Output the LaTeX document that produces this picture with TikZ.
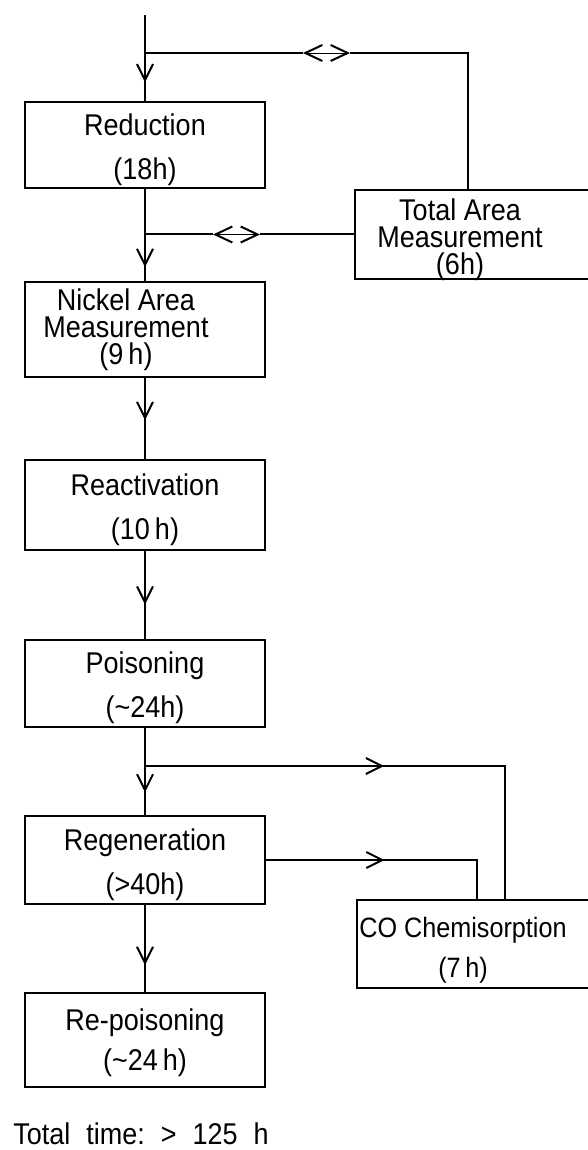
\documentclass[tikz,border=0pt]{standalone}
\usepackage{fontspec}
\setmainfont{Liberation Sans}[FakeStretch=0.9]
\usetikzlibrary{arrows.meta,decorations.markings,calc}

\tikzset{
  barb/.tip={Straight Barb[length=8pt,width=8pt,line width=1pt]},
  wide barb/.tip={Straight Barb[length=8.5pt,width=8pt,line width=1pt]},
  stage/.style={draw, line width=1pt, minimum width=120pt, inner sep=0pt,
    align=center, font=\fontsize{15}{22}\selectfont},
  tag/.style={align=center, inner sep=0pt, font=\fontsize{15}{13.5}\selectfont},
  flow/.style={line width=1pt},
  midarrow/.style={flow, postaction={decorate},
    decoration={markings, mark=at position #1 with {\arrow{barb}}}},
  both/.style={line width=0.4pt, {wide barb}-{wide barb}},
}

\begin{document}
\begin{tikzpicture}[x=0.5pt, y=-0.5pt]
  \clip (0,0) rectangle (588,1150);

  % main column
  \node[stage, minimum height=43pt] (red) at (145,145) {\strut Reduction\\(18h)};
  \node[stage, minimum height=47.5pt] (nick) at (145,329.5) {};
  \node[tag] (nick-t) at (126,330) {Nickel Area\\Measurement\\(9\,h)};
  \node[stage, minimum height=45pt] (react) at (145,505) {\strut Reactivation\\(10\,h)};
  \node[stage, minimum height=43.5pt] (pois) at (145,683.5) {\strut Poisoning\\(\textasciitilde24h)};
  \node[stage, minimum height=44pt] (regen) at (145,860) {\strut Regeneration\\(>40h)};
  \node[stage, minimum height=47pt, font=\fontsize{15}{20}\selectfont] (repois) at (145,1040)
    {\strut Re-poisoning\\(\textasciitilde24\,h)};

  % side boxes, running off the right edge
  \node[stage, minimum width=118.5pt, minimum height=44.5pt] (tam) at (473.5,234.5) {};
  \node[tag] (tam-t) at (460,240) {Total Area\\Measurement\\(6h)};
  \node[stage, minimum width=117.5pt, minimum height=44pt] (co) at (474.5,944) {};
  \node[tag, font=\fontsize{14}{20}\selectfont] (co-t) at (463,950) {CO Chemisorption\\(7\,h)};

  \node[anchor=west, inner sep=0pt, font=\fontsize{15}{18}\selectfont] (total) at (13,1134)
    {Total\hspace{8pt}time:\hspace{8pt}>\hspace{8pt}125\hspace{8pt}h};

  % junctions on the trunk
  \coordinate (in) at (145,15);
  \coordinate (j1) at (145,53);
  \coordinate (j2) at (red.south |- tam.west);
  \coordinate (j3) at (145,766);
  \coordinate (dl1) at (303,53);
  \coordinate (dr1) at (350,53);
  \coordinate (dl2) at ($(j2)+(68,0)$);
  \coordinate (dr2) at ($(j2)+(115,0)$);

  \draw[flow] (in) -- (j1);
  \draw[midarrow=0.61] (j1) -- (red.north);
  \draw[flow] (j1) -- (dl1);
  \draw[both] (dl1) -- (dr1);
  \draw[flow] (dr1) -| ($(tam.north west)+(114,0)$);

  \draw[flow] (red.south) -- (j2);
  \draw[midarrow=0.7] (j2) -- (nick.north);
  \draw[flow] (j2) -- (dl2);
  \draw[both] (dl2) -- (dr2);
  \draw[flow] (dr2) -- (tam.west);

  \draw[midarrow=0.52] (nick.south) -- (react.north);
  \draw[midarrow=0.61] (react.south) -- (pois.north);
  \draw[flow] (pois.south) -- (j3);
  \draw[midarrow=0.54] (j3) -- (regen.north);
  \draw[midarrow=0.485] (j3) -| ($(co.north west)+(149,0)$);
  \draw[midarrow=0.474] (regen.east) -| ($(co.north west)+(121,0)$);
  \draw[midarrow=0.69] (regen.south) -- (repois.north);
\end{tikzpicture}
\end{document}
